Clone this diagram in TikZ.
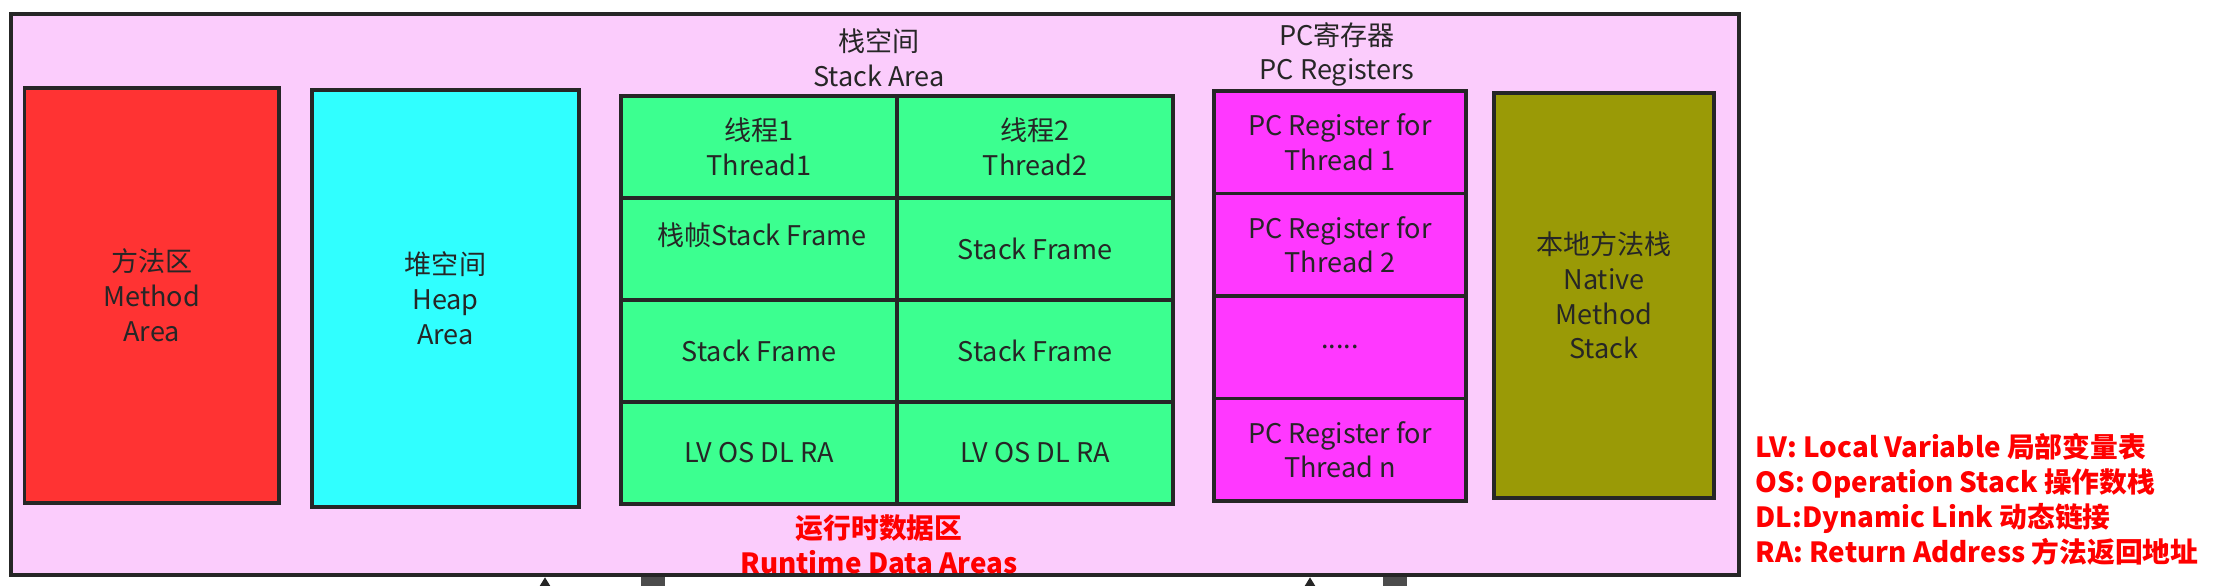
\documentclass[tikz,border=0pt]{standalone}
\usepackage{fontspec}
\setmainfont{Noto Sans CJK SC}
\usetikzlibrary{arrows.meta,positioning}
\definecolor{rdapink}{HTML}{FBCCFC}
\definecolor{methodred}{HTML}{FF3333}
\definecolor{heapcyan}{HTML}{30FFFF}
\definecolor{stackgreen}{HTML}{3CFF90}
\definecolor{pcmagenta}{HTML}{FF38FF}
\definecolor{nativeolive}{HTML}{9A9A06}
\definecolor{inkgray}{HTML}{262626}
\definecolor{notered}{HTML}{FF0000}
\newcommand{\areafont}{\fontsize{7.7pt}{9.9pt}\selectfont}
\newcommand{\notefont}{\fontsize{7.9pt}{9.9pt}\selectfont\bfseries}
\tikzset{
  area/.style={
    draw=inkgray,
    line width=1pt,
    text=inkgray,
    align=center,
    inner sep=0pt,
    font=\areafont
  },
  cell/.style={area, fill=stackgreen, minimum width=2.76cm, minimum height=1.02cm},
  pccell/.style={area, fill=pcmagenta, minimum width=2.52cm, minimum height=1.025cm},
  txt/.style={text=inkgray, align=center, inner sep=0pt, font=\areafont},
  note/.style={text=notered, inner sep=0pt, font=\notefont},
  stubarrow/.style={draw=inkgray, line width=1pt, -{Triangle[length=4pt,width=4.5pt]}},
  stubbox/.style={fill=black!70, inner sep=0pt, minimum width=0.24cm, minimum height=0.3cm}
}

\begin{document}
\begin{tikzpicture}[y=-1cm]
    \useasboundingbox (0,0) rectangle (22.22,5.85);

    % 外枠
    \node[area, fill=rdapink, line width=1.2pt, minimum width=17.28cm, minimum height=5.61cm] (rda) at (8.75,2.945) {};

    % 各領域
    \node[area, fill=methodred, minimum width=2.545cm, minimum height=4.15cm] (method) at (1.5175,2.955) {方法区\\Method\\Area};
    \node[area, fill=heapcyan, minimum width=2.67cm, minimum height=4.17cm] (heap) at (4.455,2.985) {堆空间\\Heap\\Area};
    \node[area, fill=nativeolive, minimum width=2.2cm, minimum height=4.05cm] (native) at (16.04,2.955) {本地方法栈\\Native\\Method\\Stack};

    % 栈空间
    \node[txt] (stacklbl) at (8.79,0.58) {栈空间\\Stack Area};
    \node[cell] (t1) at (7.59,1.47) {线程1\\Thread1};
    \node[cell] (t2) at (10.35,1.47) {线程2\\Thread2};
    \node[cell] (f11) at (7.59,2.49) {};
    \node[txt] (f11t) at (7.62,2.35) {栈帧Stack Frame};
    \node[cell] (f21) at (10.35,2.49) {Stack Frame};
    \node[cell] (f12) at (7.59,3.51) {Stack Frame};
    \node[cell] (f22) at (10.35,3.51) {Stack Frame};
    \node[cell] (lv1) at (7.59,4.53) {LV OS DL RA};
    \node[cell] (lv2) at (10.35,4.53) {LV OS DL RA};

    % PC寄存器
    \node[txt] (pclbl) at (13.37,0.545) {PC寄存器\\PC Registers};
    \node[pccell] (pc1) at (13.40,1.4225) {PC Register for\\Thread 1};
    \node[pccell] (pc2) at (13.40,2.4475) {PC Register for\\Thread 2};
    \node[pccell] (pcdots) at (13.40,3.4725) {.....};
    \node[pccell] (pcn) at (13.40,4.4975) {PC Register for\\Thread n};

    % 運行時データ領域
    \node[note, align=center] (rdalbl) at (8.79,5.44) {运行时数据区\\Runtime Data Areas};

    % 凡例
    \node[note, align=left, anchor=west] (legend) at (17.55,4.995) {LV: Local Variable 局部变量表\\OS: Operation Stack 操作数栈\\DL:Dynamic Link 动态链接\\RA: Return Address 方法返回地址};

    % 下の接続
    \coordinate (up1) at (5.45,6.3);
    \coordinate (up2) at (13.10,6.3);
    \draw[stubarrow] (up1) -- (up1 |- rda.south);
    \draw[stubarrow] (up2) -- (up2 |- rda.south);
    \node[stubbox] (sq1) at (6.53,5.92) {};
    \node[stubbox] (sq2) at (13.95,5.92) {};
\end{tikzpicture}
\end{document}
